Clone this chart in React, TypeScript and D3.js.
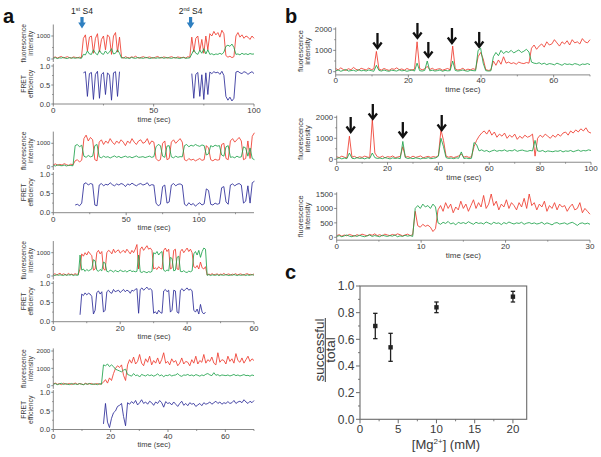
import React from 'react';
import * as d3 from 'd3';

const _ = null;

// ---------- Panel a1 (dt = 1 s) ----------
const a1Red = [60, 90, 40, 80, 110, 50, 70, 100, 60, 40, 90, 70, 50, 80, 60,
  900, 1050, 350, 950, 1000, 250, 900, 1100, 300, 850, 1000, 400, 1050, 950, 200, 1000, 1150, 300, 950,
  80, 40, 100, 60, 50, 90, 70, 120, 60, 40, 80, 100, 50, 70, 90, 60, 40, 80, 110, 60, 50, 90, 70, 40, 80, 100, 60, 50, 90, 70, 60, 80, 40, 100, 70,
  950, 300, 900, 1000, 350, 850, 250, 1000, 400, 1100, 1000, 1200, 1050, 1150, 950, 1250, 1100, 150, 80, 120, 60, 100, 1000, 1150, 950, 1050, 900, 1000, 950, 850, 1000, 900];
const a1Green = [30, 60, 20, 50, 40, 70, 30, 20, 60, 40, 50, 30, 60, 40, 30,
  200, 180, 350, 220, 200, 400, 250, 180, 380, 240, 200, 350, 230, 300, 450, 220, 250, 400, 250,
  40, 60, 30, 50, 20, 70, 40, 30, 60, 50, 40, 30, 70, 50, 20, 40, 60, 30, 50, 40, 70, 30, 50, 60, 40, 30, 60, 50, 40, 20, 50, 60, 30, 40, 50,
  220, 400, 250, 200, 380, 250, 450, 220, 400, 200, 230, 180, 220, 200, 250, 200, 300, 550, 600, 550, 650, 500, 200, 220, 180, 250, 200, 230, 190, 240, 210, 220];
const a1Fret = [_, _, _, _, _, _, _, _, _, _, _, _, _, _, _,
  0.82, 0.85, 0.2, 0.8, 0.83, 0.12, 0.78, 0.86, 0.15, 0.78, 0.83, 0.25, 0.82, 0.76, 0.1, 0.82, 0.85, 0.2, 0.85,
  _, _, _, _, _, _, _, _, _, _, _, _, _, _, _, _, _, _, _, _, _, _, _, _, _, _, _, _, _, _, _, _, _, _, _,
  0.8, 0.15, 0.78, 0.83, 0.2, 0.77, 0.12, 0.82, 0.25, 0.84, 0.8, 0.85, 0.82, 0.84, 0.78, 0.86, 0.75, 0.2, 0.1, 0.18, 0.08, 0.15, 0.84, 0.86, 0.82, 0.8, 0.85, 0.83, 0.78, 0.82, 0.85, 0.8];
const a1ArrowT = [14.3, 68.4];
const a1ArrowLabel = ['1', '2'];
const a1ArrowSup = ['st', 'nd'];

// ---------- Panel a2 (dt = 1.5 s) ----------
const a2Red = [80, 120, 60, 100, 70, 130, 90, 50, 110, 80,
  250, 300, 200, 280,
  1200, 1350, 1100, 1250, 1150,
  300, 250,
  1050, 1150, 950, 1100, 1000, 1200, 1050, 950, 1100, 1000, 1150, 1050, 900, 1100, 1000, 1200, 1050, 950, 1100, 1150, 1000, 1050, 1200, 950, 1100, 1050,
  350, 250, 300,
  1000, 1100,
  300, 350,
  1050, 1150, 1000, 1100, 1200, 1050,
  300, 250, 350, 280, 320, 250, 300, 350, 270, 300,
  900, 800,
  300, 250, 320, 280,
  300,
  950, 1000,
  350, 300,
  1100, 1200, 1050, 1150, 1250, 1100,
  300, 350,
  1100,
  350,
  1300, 1450];
const a2Green = [60, 30, 80, 50, 40, 70, 30, 60, 50, 40,
  900, 950, 850, 920,
  450, 400, 480, 420, 450,
  900, 950,
  420, 380, 450, 400, 430, 370, 420, 460, 400, 440, 380, 420, 450, 400, 430, 380, 420, 460, 400, 410, 430, 390, 420, 450, 400, 430,
  850, 950, 900,
  450, 400,
  880, 900,
  420, 380, 450, 400, 430, 420,
  900, 950, 850, 920, 880, 950, 900, 870, 930, 900,
  500, 550,
  900, 850, 920, 880,
  900,
  500, 450,
  850, 900,
  400, 420, 380, 450, 400, 420,
  850, 800,
  450,
  800,
  350, 300];
const a2Fret = [_, _, _, _, _, _, _, _, _, _,
  0.2, 0.22, 0.18, 0.25,
  0.75, 0.78, 0.72, 0.76, 0.74,
  0.2, 0.18,
  0.72, 0.76, 0.7, 0.74, 0.72, 0.78, 0.73, 0.7, 0.75, 0.72, 0.76, 0.74, 0.68, 0.75, 0.72, 0.77, 0.73, 0.7, 0.74, 0.76, 0.72, 0.74, 0.78, 0.7, 0.73, 0.72,
  0.25, 0.18, 0.22,
  0.68, 0.72,
  0.25, 0.28,
  0.72, 0.76, 0.7, 0.74, 0.75, 0.72,
  0.22, 0.18, 0.26, 0.2, 0.24, 0.17, 0.22, 0.26, 0.2, 0.23,
  0.62, 0.58,
  0.22, 0.2, 0.25, 0.22,
  0.24,
  0.65, 0.68,
  0.28, 0.22,
  0.72, 0.75, 0.7, 0.74, 0.76, 0.72,
  0.25, 0.3,
  0.7,
  0.25,
  0.78, 0.82];

// ---------- Panel a3 (dt = 0.5 s) ----------
const a3Red = [60, 100, 40, 80, 120, 50, 90, 70, 40, 110, 60, 80, 50, 100, 70, 90,
  300,
  950, 850, 1000, 900, 1050, 950, 880,
  250, 300,
  1000, 1100, 950, 1050,
  300, 250,
  1000, 1100, 1050, 950, 1150, 1000, 1080, 1120, 980, 1050, 1100, 1000, 1150, 1050, 950, 1100, 1000, 1150,
  1350,
  300,
  1150, 1250, 1100, 1200, 1300, 1150, 1200, 1100,
  300, 350, 280, 400, 320, 300,
  1100, 1200, 1050, 1150,
  300, 350,
  1100, 1150,
  300, 280,
  1050, 1150, 1000, 1100, 1200, 1050, 1150, 1000,
  400, 350, 450, 300, 600, 350,
  300, 400,
  40, 80, 60, 100, 50, 70, 90, 40, 80, 60, 110, 50, 70, 90, 40, 80, 60, 100, 50, 70, 90, 60, 40, 80, 100, 60, 70, 50, 90];
const a3Green = [40, 20, 60, 30, 50, 40, 20, 60, 30, 50, 40, 60, 20, 50, 30, 40,
  900,
  250, 300, 200, 280, 220, 260, 300,
  700, 650,
  250, 200, 280, 220,
  600, 550,
  200, 180, 250, 220, 170, 240, 200, 180, 260, 210, 190, 230, 170, 220, 250, 190, 210, 180,
  200,
  900,
  180, 150, 200, 170, 140, 190, 160, 200,
  1000, 950, 1050, 900, 1000, 1050,
  250, 200, 260, 220,
  800, 750,
  220, 250,
  800, 850,
  200, 180, 230, 170, 150, 210, 180, 220,
  950, 1050, 900, 1100, 800, 1050,
  1200, 1150,
  30, 60, 20, 50, 40, 30, 60, 20, 50, 40, 30, 60, 40, 20, 50, 30, 60, 40, 20, 50, 30, 40, 60, 20, 50, 30, 40, 60, 30];
const a3Fret = [_, _, _, _, _, _, _, _, _, _, _, _, _, _, _, _,
  0.18,
  0.72, 0.68, 0.75, 0.7, 0.74, 0.72, 0.66,
  0.2, 0.3,
  0.76, 0.8, 0.72, 0.78,
  0.25, 0.3,
  0.78, 0.82, 0.76, 0.74, 0.84, 0.78, 0.8, 0.82, 0.76, 0.8, 0.84, 0.78, 0.82, 0.8, 0.74, 0.82, 0.8, 0.84,
  0.86,
  0.22,
  0.84, 0.88, 0.82, 0.86, 0.9, 0.84, 0.86, 0.82,
  0.22, 0.26, 0.2, 0.3, 0.24, 0.22,
  0.8, 0.84, 0.78, 0.82,
  0.25, 0.3,
  0.82, 0.8,
  0.25, 0.22,
  0.82, 0.86, 0.8, 0.84, 0.88, 0.82, 0.85, 0.8,
  0.3, 0.25, 0.33, 0.2, 0.45, 0.25,
  0.2, 0.25,
  _, _, _, _, _, _, _, _, _, _, _, _, _, _, _, _, _, _, _, _, _, _, _, _, _, _, _, _, _];

// ---------- Panel a4 (dt = 0.7 s) ----------
const a4Red = [100, 150, 80, 120, 60, 140, 100, 90, 130, 70, 110, 150, 80, 120, 100, 60, 140, 90, 110, 130, 70, 100, 120, 80, 110,
  200, 350, 150, 450, 300,
  700, 1000, 1150, 1050,
  1200, 600,
  300,
  1200, 1500, 1300, 1650, 1250, 1400, 1800, 1300, 1150, 1550,
  1350, 1700, 1200, 1450, 1300, 1600, 1250, 1500, 1900, 1300,
  1400, 1200, 1550, 1350, 1450, 1150, 1300, 1600, 1250, 1400,
  1350, 1150, 1500, 1300, 1700, 1250, 1450, 1350, 1800, 1300,
  1500, 1400, 1650, 1300, 1200, 1900, 1350, 1500, 1450, 1250,
  1700, 1400, 1550, 1300, 1850, 1450, 1350, 1600, 1300, 1500,
  1700, 1400, 1550, 1450];
const a4Green = [80, 120, 60, 100, 140, 70, 110, 90, 60, 130, 80, 100, 70, 120, 90, 60, 110, 80, 130, 70, 100, 90, 60, 120, 80,
  1200, 1150, 1250, 1100, 1200,
  1100, 950, 900, 850,
  800, 900,
  950,
  650, 600, 550, 700, 580, 620, 500, 650, 600, 560,
  640, 580, 620, 550, 600, 680, 570, 620, 520, 600,
  580, 640, 560, 600, 620, 700, 580, 540, 620, 600,
  650, 580, 620, 560, 640, 600, 550, 620, 580, 660,
  700, 620, 580, 750, 600, 640, 560, 620, 600, 580,
  620, 560, 600, 650, 580, 620, 560, 600, 640, 580,
  600, 550, 620, 580];
const a4Fret = [_, _, _, _, _, _, _, _, _, _, _, _, _, _, _, _, _, _, _, _, _, _, _, _, _,
  0.15, 0.7, 0.2, 0.05, 0.3,
  0.45, 0.5, 0.62, 0.65,
  0.7, 0.35,
  0.1,
  0.72, 0.68, 0.75, 0.7, 0.78, 0.66, 0.72, 0.8, 0.7, 0.74,
  0.68, 0.76, 0.72, 0.65, 0.74, 0.7, 0.78, 0.72, 0.6, 0.75,
  0.7, 0.72, 0.66, 0.74, 0.68, 0.62, 0.7, 0.76, 0.65, 0.7,
  0.64, 0.72, 0.68, 0.7, 0.62, 0.66, 0.7, 0.64, 0.72, 0.68,
  0.7, 0.74, 0.68, 0.72, 0.76, 0.7, 0.74, 0.68, 0.72, 0.7,
  0.75, 0.7, 0.72, 0.78, 0.7, 0.74, 0.76, 0.72, 0.8, 0.74,
  0.7, 0.76, 0.72, 0.78];

// ---------- Panel b1 (dt = 0.7 s) ----------
const b1Red = [150, 80, 180, 100, 60, 140, 90, 200, 110, 70, 160, 120, 80, 170, 100, 130,
  950,
  120, 80, 150, 100, 60, 140, 110, 180, 90, 130, 70, 150, 100, 80, 120,
  1400,
  150, 90, 130,
  250,
  100, 160, 80, 120, 140, 70, 110, 150, 90,
  1200,
  130, 80, 100, 160, 70, 120, 90, 140, 100,
  700, 900, 600,
  100, 60, 80,
  500, 300, 550, 350, 700,
  400, 450, 380, 420, 350, 450, 400, 380, 430, 400,
  1100, 1250, 1050, 1200, 1300, 1150, 1400, 1250, 1300, 1500, 1350, 1200, 1400, 1300, 1450, 1250, 1500, 1350, 1400, 1300, 1550, 1400, 1350, 1500];
const b1Green = [40, 80, 20, 60, 100, 30, 50, 70, 20, 90, 40, 60, 30, 80, 50, 20,
  300,
  60, 30, 80, 40, 20, 70, 50, 30, 90, 40, 60, 20, 50, 80, 30,
  400,
  50, 30, 60,
  500,
  40, 70, 30, 50, 80, 20, 60, 40, 50,
  500,
  60, 30, 50, 80, 40, 20, 70, 50, 40,
  1000, 1100, 400,
  50, 30, 40,
  700, 900, 750, 1000, 850,
  950, 900, 1000, 880, 950, 1020, 900, 960, 1050, 920,
  450, 400, 380, 420, 350, 400, 330, 380, 360, 320, 400, 350, 300, 380, 340, 360, 320, 380, 350, 300, 360, 340, 380, 330];
const b1ArrowT = [11.5, 22.5, 25.5, 32, 39.5];
const b1ArrowV = [1110, 1580, 690, 1345, 1160];

// ---------- Panel b2 (dt = 1 s) ----------
const b2Red = [120, 80, 150, 100, 60,
  1100,
  100, 140, 70, 120, 90, 150, 110, 80,
  1900,
  300,
  120, 90, 150, 70, 130, 100, 160, 80, 110, 140,
  600,
  100, 130, 80, 150, 90, 120, 160, 70, 110, 140, 90, 130, 100, 180,
  1400,
  900,
  150, 100, 130, 80, 120, 160, 250, 100, 140, 90, 120,
  600,
  900,
  1100, 1250, 1350, 1200, 1400, 1150, 1300, 1050, 1200, 1100,
  1250, 1000, 1150, 1050, 1200, 950, 1100, 1000, 1150, 1050,
  1100, 1200, 150, 1000, 1150, 1050, 1200, 1100, 1000, 1150,
  1050, 1200, 1100, 1250, 1300, 1150, 1350, 1250, 1400, 1300,
  1450, 1350, 1500, 1300, 1250];
const b2Green = [40, 70, 20, 60, 30,
  300,
  50, 30, 80, 40, 60, 20, 70, 40,
  300,
  80,
  40, 60, 30, 80, 50, 20, 70, 40, 60, 30,
  850,
  80, 40, 60, 30, 70, 50, 20, 60, 40, 80, 30, 50, 70, 150,
  1000,
  600,
  80, 40, 60, 30, 70, 50, 350, 40, 60, 30, 50,
  800,
  700,
  400, 450, 380, 420, 350, 400, 440, 380, 420, 400,
  450, 380, 420, 400, 460, 380, 420, 440, 400, 380,
  420, 400, 900, 400, 380, 420, 350, 400, 380, 360,
  400, 380, 420, 350, 400, 380, 420, 360, 400, 440,
  380, 420, 400, 450, 420];
const b2ArrowT = [5.5, 14.2, 26, 41.3];
const b2ArrowV = [1300, 1920, 1060, 1395];

// ---------- Panel b3 (dt = 0.3 s) ----------
const b3Red = [60, 90, 40, 80, 50, 100, 70, 40, 90, 60, 110, 80, 50, 100, 70, 120, 60, 90, 50, 110, 80, 60, 100, 70, 120, 90, 50, 80, 110, 60, 90,
  900,
  400, 350, 450, 380, 420, 350, 200, 300,
  950, 1100, 900, 1200, 1000, 1150, 850, 1050, 950, 1250,
  1000, 1150, 900, 1100, 1300, 1000, 1200, 1050, 1450, 1000,
  1150, 1500, 1100, 1250, 950, 1150, 1050, 1300, 1000, 1200,
  1100, 950, 1200, 1050, 1350, 1000, 1500, 1100, 1200, 950,
  1150, 1050, 1250, 900, 1100, 1000, 1200, 950, 1150, 1050,
  1100, 900, 1050, 1150, 950, 1000, 1200, 850, 1000, 900,
  800];
const b3Green = [30, 60, 20, 50, 80, 40, 20, 60, 30, 70, 40, 20, 50, 80, 30, 60, 40, 20, 70, 50, 30, 60, 40, 80, 20, 50, 30, 70, 40, 60, 30,
  1000,
  1100, 1000, 1150, 1050, 1100, 1000, 1150, 1050,
  500, 450, 520, 480, 550, 460, 500, 430, 520, 480,
  510, 470, 540, 490, 450, 520, 480, 500, 460, 530,
  490, 450, 520, 480, 500, 440, 510, 470, 530, 490,
  460, 500, 480, 520, 450, 490, 510, 470, 500, 460,
  480, 520, 450, 500, 470, 430, 490, 510, 460, 480,
  500, 450, 490, 520, 470, 410, 480, 500, 460, 490,
  450];

// ---------- Panel c ----------
const cMg = [2, 4, 10, 20];
const cFrac = [0.70, 0.54, 0.84, 0.92];
const cErr = [0.095, 0.105, 0.04, 0.04];
const cXTicks = [0, 5, 10, 15, 20];
const cYTicks = [0, 0.2, 0.4, 0.6, 0.8, 1.0];

// ---------- styles ----------
const RED = '#ee3b2e';
const GREEN = '#1ea24a';
const BLUE = '#2c2c98';
const AX = '#6a6a6a';
const TXT = '#3a3a3a';
const FONT = '"Liberation Sans", Arial, Helvetica, sans-serif';

const aPanels = [
  { red: a1Red, green: a1Green, fret: a1Fret, dt: 1, xMax: 100, xTicks: [0, 50, 100], xMinor: [25, 75],
    f0: 59, fRefV: 1000, fRef: 36, fLo: -130, fHi: 1500, fTicks: [0, 1000], fMinor: [500], e0: 104, e1: 66 },
  { red: a2Red, green: a2Green, fret: a2Fret, dt: 1.5, xMax: 137.7, xTicks: [0, 50, 100], xMinor: [25, 75, 125],
    f0: 166.7, fRefV: 1000, fRef: 143.3, fLo: -140, fHi: 1500, fTicks: [0, 1000], fMinor: [500], e0: 212.7, e1: 174.3 },
  { red: a3Red, green: a3Green, fret: a3Fret, dt: 0.5, xMax: 60, xTicks: [0, 20, 40, 60], xMinor: [10, 30, 50],
    f0: 276, fRefV: 1000, fRef: 252.7, fLo: -150, fHi: 1500, fTicks: [0, 1000], fMinor: [500], e0: 321.7, e1: 283.3 },
  { red: a4Red, green: a4Green, fret: a4Fret, dt: 0.7, xMax: 70, xTicks: [0, 20, 40, 60], xMinor: [10, 30, 50, 70],
    f0: 385.7, fRefV: 2000, fRef: 351, fLo: -180, fHi: 2150, fTicks: [0, 1000, 2000], fMinor: [500, 1500], e0: 429.5, e1: 392.3 },
];

const bPanels = [
  { red: b1Red, green: b1Green, dt: 0.7, xMax: 70, x0: 335.7, x1: 590, xTicks: [0, 20, 40, 60], xMinor: [10, 30, 50, 70],
    f0: 71.7, fRefV: 2000, fRef: 29, fLo: -150, fHi: 2080, fTicks: [0, 1000, 2000], fMinor: [500, 1500], arrowT: b1ArrowT, arrowV: b1ArrowV },
  { red: b2Red, green: b2Green, dt: 1, xMax: 100, x0: 336.7, x1: 591, xTicks: [0, 20, 40, 60, 80, 100], xMinor: [10, 30, 50, 70, 90],
    f0: 159.3, fRefV: 2000, fRef: 117.3, fLo: -140, fHi: 2080, fTicks: [0, 1000, 2000], fMinor: [500, 1500], arrowT: b2ArrowT, arrowV: b2ArrowV },
  { red: b3Red, green: b3Green, dt: 0.3, xMax: 30, x0: 336.7, x1: 590, xTicks: [0, 10, 20, 30], xMinor: [5, 15, 25],
    f0: 237.3, fRefV: 1500, fRef: 194, fLo: -100, fHi: 1560, fTicks: [0, 500, 1000, 1500], fMinor: [], arrowT: [], arrowV: [] },
];

function pathOf(values: any[], dt: number, x: any, y: any) {
  const line = d3.line<any>().defined((d: any) => d[1] != null).x((d: any) => x(d[0])).y((d: any) => y(d[1]));
  return line(values.map((v, i) => [i * dt, v])) || '';
}

function YAxis({ scale, x, lo, hi, ticks, minor, fmt, fs, len = 2.5 }: any) {
  return (
    <g>
      <line x1={x} x2={x} y1={scale(lo)} y2={scale(hi)} stroke={AX} strokeWidth={0.8} />
      {ticks.map((t: number) => (
        <g key={'t' + t}>
          <line x1={x - len} x2={x} y1={scale(t)} y2={scale(t)} stroke={AX} strokeWidth={0.8} />
          <text x={x - len - 1} y={scale(t)} dy="0.35em" textAnchor="end" fontSize={fs} fill={TXT}>{fmt(t)}</text>
        </g>
      ))}
      {minor.map((t: number) => (
        <line key={'m' + t} x1={x - len * 0.6} x2={x} y1={scale(t)} y2={scale(t)} stroke={AX} strokeWidth={0.7} />
      ))}
    </g>
  );
}

function XAxis({ scale, y, lo, hi, ticks, minor, fmt, fs, len = 2.5, labelDy = 8 }: any) {
  return (
    <g>
      <line x1={scale(lo)} x2={scale(hi)} y1={y} y2={y} stroke={AX} strokeWidth={0.8} />
      {ticks.map((t: number) => (
        <g key={'t' + t}>
          <line x1={scale(t)} x2={scale(t)} y1={y} y2={y + len} stroke={AX} strokeWidth={0.8} />
          <text x={scale(t)} y={y + labelDy} textAnchor="middle" fontSize={fs} fill={TXT}>{fmt(t)}</text>
        </g>
      ))}
      {minor.map((t: number) => (
        <line key={'m' + t} x1={scale(t)} x2={scale(t)} y1={y} y2={y + len * 0.6} stroke={AX} strokeWidth={0.7} />
      ))}
    </g>
  );
}

function RotLabel({ x, y, text, fs }: any) {
  return <text transform={`translate(${x},${y}) rotate(-90)`} textAnchor="middle" fontSize={fs} fill={TXT}>{text}</text>;
}

function APanel({ p }: any) {
  const x = d3.scaleLinear().domain([0, p.xMax]).range([53.3, 254]);
  const yf = d3.scaleLinear().domain([0, p.fRefV]).range([p.f0, p.fRef]);
  const ye = d3.scaleLinear().domain([0, 1]).range([p.e0, p.e1]);
  const fc = (yf(p.fLo) + yf(p.fHi)) / 2;
  const ec = (p.e0 + ye(1.06)) / 2;
  return (
    <g>
      <path d={pathOf(p.red, p.dt, x, yf)} fill="none" stroke={RED} strokeWidth={0.85} />
      <path d={pathOf(p.green, p.dt, x, yf)} fill="none" stroke={GREEN} strokeWidth={0.85} />
      <path d={pathOf(p.fret, p.dt, x, ye)} fill="none" stroke={BLUE} strokeWidth={0.85} />
      <YAxis scale={yf} x={53.3} lo={p.fLo} hi={p.fHi} ticks={p.fTicks} minor={p.fMinor} fmt={(t: number) => String(t)} fs={6.2} len={2} />
      <YAxis scale={ye} x={53.3} lo={0} hi={1.06} ticks={[0, 0.5, 1]} minor={[0.25, 0.75]} fmt={(t: number) => t.toFixed(1)} fs={7.5} len={2} />
      <XAxis scale={x} y={p.e0} lo={0} hi={p.xMax} ticks={p.xTicks} minor={p.xMinor} fmt={(t: number) => String(t)} fs={8} len={2.5} labelDy={9} />
      <text x={154} y={p.e0 + 17.5} textAnchor="middle" fontSize={7.5} fill={TXT}>time (sec)</text>
      <RotLabel x={25.5} y={fc} text="fluorescence" fs={6.8} />
      <RotLabel x={32.5} y={fc} text="intensity" fs={6.8} />
      <RotLabel x={25.5} y={ec} text="FRET" fs={6.8} />
      <RotLabel x={32.5} y={ec} text="efficiency" fs={6.8} />
    </g>
  );
}

function BPanel({ p }: any) {
  const x = d3.scaleLinear().domain([0, p.xMax]).range([p.x0, p.x1]);
  const yf = d3.scaleLinear().domain([0, p.fRefV]).range([p.f0, p.fRef]);
  const axY = yf(p.fLo);
  const fc = (yf(p.fLo) + yf(p.fHi)) / 2;
  return (
    <g>
      <path d={pathOf(p.red, p.dt, x, yf)} fill="none" stroke={RED} strokeWidth={0.85} />
      <path d={pathOf(p.green, p.dt, x, yf)} fill="none" stroke={GREEN} strokeWidth={0.85} />
      <YAxis scale={yf} x={p.x0} lo={p.fLo} hi={p.fHi} ticks={p.fTicks} minor={p.fMinor} fmt={(t: number) => String(t)} fs={7.8} len={2.5} />
      <XAxis scale={x} y={axY} lo={0} hi={p.xMax} ticks={p.xTicks} minor={p.xMinor} fmt={(t: number) => String(t)} fs={8} len={2.5} labelDy={8.5} />
      <text x={(p.x0 + p.x1) / 2} y={axY + 17.5} textAnchor="middle" fontSize={8} fill={TXT}>time (sec)</text>
      <RotLabel x={303} y={fc} text="fluorescence" fs={7.4} />
      <RotLabel x={310} y={fc} text="intensity" fs={7.4} />
      {p.arrowT.map((t: number, i: number) => {
        const ax = x(t);
        const tip = yf(p.arrowV[i]);
        return (
          <g key={i} stroke="#111" strokeWidth={2.3} fill="none" strokeLinecap="butt">
            <line x1={ax} x2={ax} y1={tip - 15} y2={tip - 1} />
            <polyline points={`${ax - 4.2},${tip - 5.5} ${ax},${tip} ${ax + 4.2},${tip - 5.5}`} strokeLinejoin="miter" />
          </g>
        );
      })}
    </g>
  );
}

function CPanel() {
  const x = d3.scaleLinear().domain([0, 21.8]).range([360, 526.7]);
  const y = d3.scaleLinear().domain([0, 1]).range([419.3, 286]);
  const xMinor = [2.5, 7.5, 12.5, 17.5];
  const yMinor = [0.1, 0.3, 0.5, 0.7, 0.9];
  return (
    <g>
      <rect x={360} y={286} width={166.7} height={133.3} fill="none" stroke={AX} strokeWidth={1.1} />
      {cYTicks.map((t) => (
        <g key={'y' + t}>
          <line x1={356} x2={360} y1={y(t)} y2={y(t)} stroke={AX} strokeWidth={1} />
          <text x={354.5} y={y(t)} dy="0.36em" textAnchor="end" fontSize={12} fill={TXT}>{t.toFixed(1)}</text>
        </g>
      ))}
      {yMinor.map((t) => <line key={'ym' + t} x1={358} x2={360} y1={y(t)} y2={y(t)} stroke={AX} strokeWidth={0.9} />)}
      {cXTicks.map((t) => (
        <g key={'x' + t}>
          <line x1={x(t)} x2={x(t)} y1={419.3} y2={423.3} stroke={AX} strokeWidth={1} />
          <text x={x(t)} y={432.5} textAnchor="middle" fontSize={11.5} fill={TXT}>{t}</text>
        </g>
      ))}
      {xMinor.map((t) => <line key={'xm' + t} x1={x(t)} x2={x(t)} y1={419.3} y2={421.3} stroke={AX} strokeWidth={0.9} />)}
      {cMg.map((m, i) => (
        <g key={'p' + i} stroke="#222" strokeWidth={1.3}>
          <line x1={x(m)} x2={x(m)} y1={y(cFrac[i] - cErr[i])} y2={y(cFrac[i] + cErr[i])} />
          <line x1={x(m) - 2.2} x2={x(m) + 2.2} y1={y(cFrac[i] - cErr[i])} y2={y(cFrac[i] - cErr[i])} />
          <line x1={x(m) - 2.2} x2={x(m) + 2.2} y1={y(cFrac[i] + cErr[i])} y2={y(cFrac[i] + cErr[i])} />
          <rect x={x(m) - 2.2} y={y(cFrac[i]) - 2.2} width={4.4} height={4.4} fill="#222" stroke="none" />
        </g>
      ))}
      <text x={446} y={449} textAnchor="middle" fontSize={13} fill={TXT}>
        [Mg<tspan dy={-5} fontSize={8}>2+</tspan><tspan dy={5}>] (mM)</tspan>
      </text>
      <text transform="translate(323.5,350) rotate(-90)" textAnchor="middle" fontSize={13.5} fill={TXT}>successful</text>
      <line x1={325.3} x2={325.3} y1={318} y2={382} stroke={TXT} strokeWidth={1} />
      <text transform="translate(335,350) rotate(-90)" textAnchor="middle" fontSize={13.5} fill={TXT}>total</text>
    </g>
  );
}

function BlueArrows() {
  const x = d3.scaleLinear().domain([0, 100]).range([53.3, 254]);
  return (
    <g>
      {a1ArrowT.map((t, i) => {
        const ax = x(t);
        return (
          <g key={i}>
            <path d={`M${ax - 1.6},17 L${ax + 1.6},17 L${ax + 1.6},22.5 L${ax + 3.8},22.5 L${ax},28.5 L${ax - 3.8},22.5 L${ax - 1.6},22.5 Z`} fill="#2e7fc0" />
            <text x={ax} y={14} textAnchor="middle" fontSize={8.5} fill="#222">
              {a1ArrowLabel[i]}<tspan dy={-3} fontSize={5.5}>{a1ArrowSup[i]}</tspan><tspan dy={3}> S4</tspan>
            </text>
          </g>
        );
      })}
    </g>
  );
}

export default function App() {
  return (
    <svg width={601} height={457} style={{ position: 'absolute', left: 0, top: 0, background: '#fff' }} fontFamily={FONT}>
      <rect width={601} height={457} fill="#fff" />
      {aPanels.map((p, i) => <APanel key={i} p={p} />)}
      {bPanels.map((p, i) => <BPanel key={i} p={p} />)}
      <CPanel />
      <BlueArrows />
      <text x={3} y={23} fontSize={20} fontWeight="bold" fill="#111">a</text>
      <text x={285} y={23} fontSize={20} fontWeight="bold" fill="#111">b</text>
      <text x={285} y={279} fontSize={20} fontWeight="bold" fill="#111">c</text>
    </svg>
  );
}
